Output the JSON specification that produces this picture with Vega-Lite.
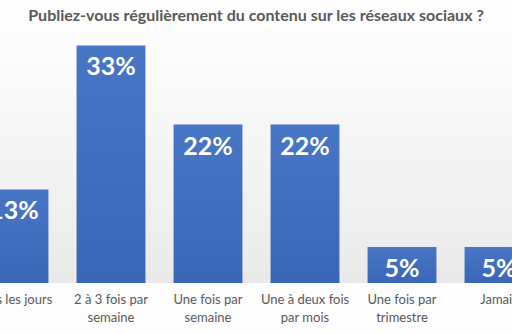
{
  "$schema": "https://vega.github.io/schema/vega-lite/v6.json",
  "autosize": {"type": "none"},
  "width": 512,
  "height": 252,
  "padding": {"top": 31, "left": 0, "right": 0, "bottom": 51},
  "background": "#fdfdfd",
  "title": {
    "text": "Publiez-vous régulièrement du contenu sur les réseaux sociaux ?",
    "font": "Lato",
    "fontSize": 16,
    "fontWeight": "bold",
    "color": "#595959",
    "anchor": "middle",
    "offset": 7
  },
  "data": {
    "values": [
      {"cat": "Tous les jours", "value": 0.13},
      {"cat": "2 à 3 fois par|semaine", "value": 0.33},
      {"cat": "Une fois par|semaine", "value": 0.22},
      {"cat": "Une à deux fois|par mois", "value": 0.22},
      {"cat": "Une fois par|trimestre", "value": 0.05},
      {"cat": "Jamais", "value": 0.05}
    ]
  },
  "encoding": {
    "x": {
      "field": "cat",
      "type": "nominal",
      "sort": null,
      "scale": {"range": [-34.5, 547.5], "paddingInner": 0.29, "paddingOuter": 0.145},
      "axis": {
        "title": null,
        "domain": false,
        "ticks": false,
        "labelAngle": 0,
        "labelPadding": 10,
        "labelFont": "Lato",
        "labelFontSize": 13,
        "labelColor": "#595959",
        "labelLineHeight": 18,
        "labelExpr": "split(datum.value, '|')"
      }
    },
    "y": {
      "field": "value",
      "type": "quantitative",
      "scale": {"domain": [0, 0.35]},
      "axis": null
    }
  },
  "layer": [
    {
      "mark": {
        "type": "bar",
        "clip": true,
        "color": {
          "gradient": "linear",
          "x1": 0, "y1": 0, "x2": 0, "y2": 1,
          "stops": [
            {"offset": 0, "color": "#4876c6"},
            {"offset": 1, "color": "#3a66b9"}
          ]
        }
      }
    },
    {
      "mark": {
        "type": "text",
        "baseline": "top",
        "dy": 10,
        "font": "Lato",
        "fontSize": 25,
        "fontWeight": "bold",
        "color": "white"
      },
      "encoding": {
        "text": {"field": "value", "type": "quantitative", "format": ".0%"}
      }
    }
  ],
  "config": {
    "view": {
      "stroke": null,
      "fill": {
        "gradient": "linear",
        "x1": 0, "y1": 0, "x2": 0, "y2": 1,
        "stops": [
          {"offset": 0, "color": "#fdfdfd"},
          {"offset": 0.6, "color": "#f2f2f2"},
          {"offset": 1, "color": "#e9e9e9"}
        ]
      }
    }
  }
}
